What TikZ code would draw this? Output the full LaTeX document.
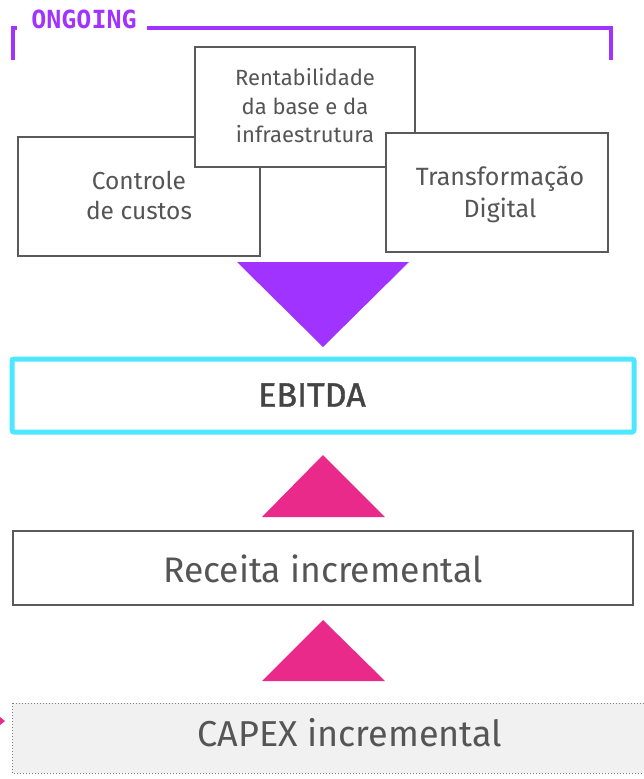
\documentclass[tikz,border=0pt]{standalone}
\usepackage{fontspec}
\setmainfont{Fira Sans}
\newfontfamily\ongfont{DejaVu Sans Mono}
\newfontfamily\boldishfont[FakeBold=1.2]{Fira Sans}
\definecolor{txt}{HTML}{555555}
\definecolor{edge}{HTML}{5A5A5A}
\definecolor{purp}{HTML}{A033FF}
\definecolor{pink}{HTML}{E92A8A}
\definecolor{cyanb}{HTML}{4DE8FF}
\definecolor{capexfill}{HTML}{F1F1F1}
\tikzset{
  box/.style={draw=edge, line width=1.6pt, fill=white, text=txt, align=center},
}
\begin{document}
\begin{tikzpicture}[x=1pt,y=-1pt]
\useasboundingbox (0,0) rectangle (644,779);
% ongoing bracket
\draw[purp, line width=4.5pt] (13,60) -- (13,28) -- (17,28);
\draw[purp, line width=4.5pt] (147,28) -- (611,28) -- (611,60);
\node[text=purp, font=\ongfont\bfseries\fontsize{25}{27}\selectfont, anchor=center] (ong) at (84,19) {ONGOING};
% top boxes
\path[box] (18,137) rectangle (260,256);
\node[text=txt, align=center, font=\fontsize{24.5}{30}\selectfont] (ctrl) at (139,195) {Controle\\de custos};
\path[box] (195,47) rectangle (415,167);
\node[text=txt, align=center, font=\fontsize{22}{28.5}\selectfont] (rent) at (305,106) {Rentabilidade\\da base e da\\infraestrutura};
\path[box] (386,133) rectangle (608,252);
\node[text=txt, align=center, font=\fontsize{25}{32}\selectfont] (trans) at (500,194) {Transformação\\Digital};
% purple triangle
\fill[purp] (237,262) -- (409,262) -- (323,347) -- cycle;
% EBITDA
\draw[cyanb, line width=5pt, rounded corners=2pt, fill=white] (12,359) rectangle (634,432);
\node[text=txt!80!black, font=\boldishfont\fontsize{34}{38}\selectfont] (ebitda) at (312,395) {EBITDA};
% pink triangles
\fill[pink] (323,455) -- (385,517) -- (262,517) -- cycle;
\draw[edge, line width=1.6pt, fill=white] (13,531) rectangle (633,605);
\node[text=txt, font=\fontsize{35.5}{38}\selectfont] (rec) at (323,569) {Receita incremental};
\fill[pink] (323,620) -- (385,681) -- (262,681) -- cycle;
% CAPEX
\draw[gray, line width=1pt, dotted, fill=capexfill] (12,703) rectangle (660,773);
\node[text=txt, font=\fontsize{36}{38}\selectfont] (capex) at (350,733) {CAPEX incremental};
\fill[pink] (0,717) -- (5,721) -- (0,725) -- cycle;
\end{tikzpicture}
\end{document}
